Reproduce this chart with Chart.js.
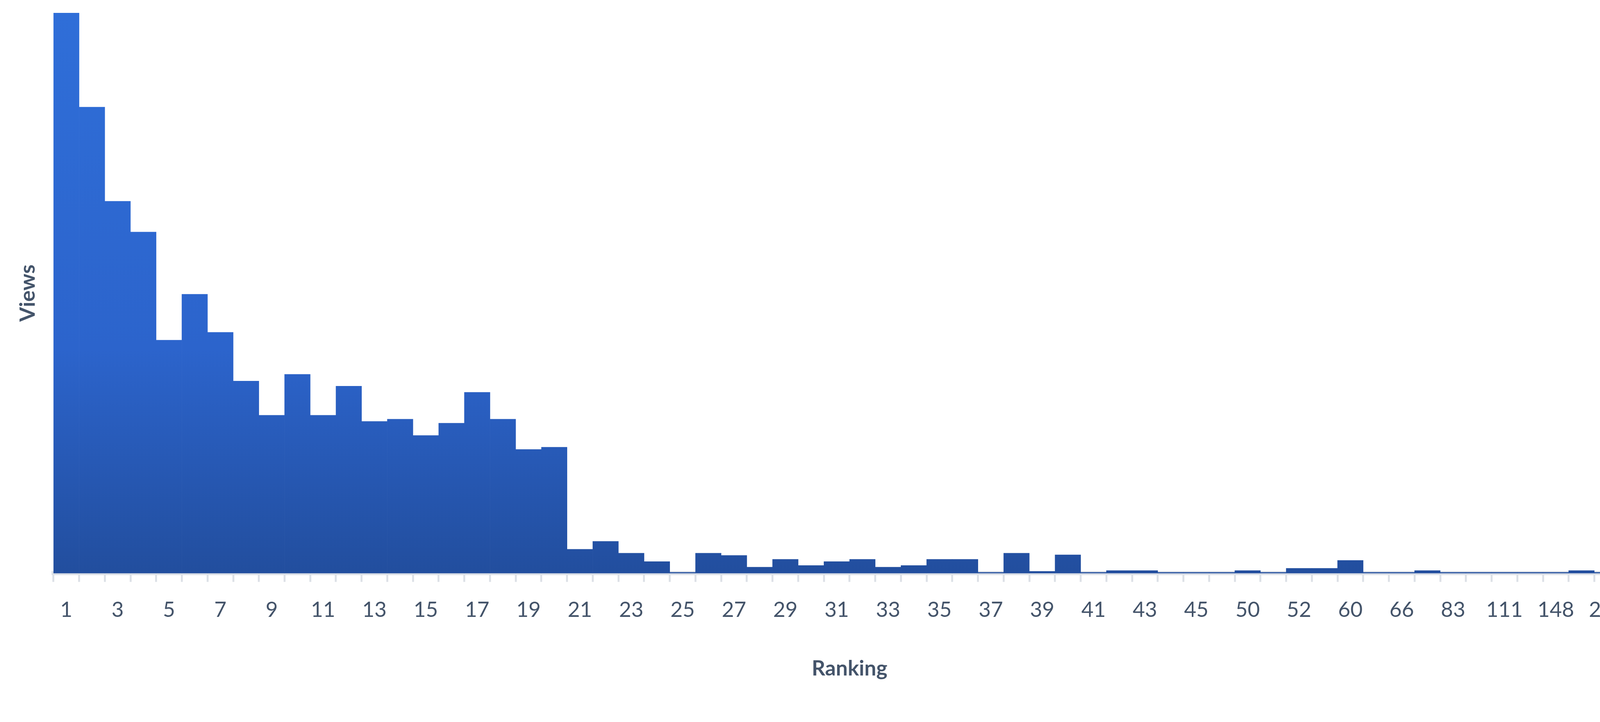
<!DOCTYPE html>
<html><head><meta charset="utf-8">
<script src="https://cdn.jsdelivr.net/npm/chart.js@4"></script>
<style>html,body{margin:0;padding:0;background:#fff}#w{width:4273px;height:1848px}</style>
</head><body><div id="w"><canvas id="c"></canvas></div>
<script>
const categories = ['1','2','3','4','5','6','7','8','9','10','11','12','13','14','15','16','17','18','19','20','21','22','23','24','25','26','27','28','29','30','31','32','33','34','35','36','37','38','39','40','41','42','43','44','45','46','50','51','52','55','60','62','66','70','83','95','111','130','148','170','205','250'];
const views = [100,83.2,66.4,60.9,41.6,49.8,43.0,34.3,28.2,35.5,28.2,33.4,27.1,27.5,24.6,26.8,32.3,27.5,22.1,22.5,4.3,5.7,3.6,2.1,0.18,3.6,3.2,1.1,2.5,1.4,2.1,2.5,1.1,1.4,2.5,2.5,0.18,3.6,0.35,3.3,0.18,0.5,0.5,0.18,0.18,0.18,0.5,0.18,0.9,0.9,2.3,0.18,0.18,0.5,0.18,0.18,0.18,0.18,0.18,0.5,0.18,0.18];
const txt = '#44546a';
new Chart(document.getElementById('c'), {
  type: 'bar',
  data: { labels: categories, datasets: [{ data: views,
    backgroundColor: (ctx) => {
      const a = ctx.chart.chartArea; if (!a) return '#2b63c8';
      const g = ctx.chart.ctx.createLinearGradient(0, a.top, 0, a.bottom);
      g.addColorStop(0, '#2f6ed8'); g.addColorStop(0.6, '#2c64cc'); g.addColorStop(1, '#224e9e');
      return g;
    },
    barPercentage: 1, categoryPercentage: 1, borderWidth: 0 }] },
  options: {
    responsive: true, maintainAspectRatio: false, animation: false,
    layout: { padding: { top: 33, right: 60, left: 35, bottom: 100 } },
    plugins: { legend: { display: false }, tooltip: { enabled: false } },
    scales: {
      x: {
        offset: true,
        grid: { display: true, drawOnChartArea: false, tickLength: 22, color: '#dde1e7', lineWidth: 5, offset: true },
        border: { color: '#dde1e7', width: 10 },
        ticks: { autoSkip: false, maxRotation: 0, color: txt, padding: 40,
          font: { family: 'Lato', size: 54 },
          callback: function(v, i) { return i % 2 === 0 ? categories[i] : ''; } },
        title: { display: true, text: 'Ranking', color: txt, padding: { top: 45 }, font: { family: 'Lato', size: 54, weight: 'bold' } }
      },
      y: {
        min: 0, max: 100,
        grid: { display: false }, border: { display: false },
        ticks: { display: false },
        title: { display: true, text: 'Views', color: txt, padding: { bottom: 25 }, font: { family: 'Lato', size: 54, weight: 'bold' } }
      }
    }
  }
});
</script></body></html>
